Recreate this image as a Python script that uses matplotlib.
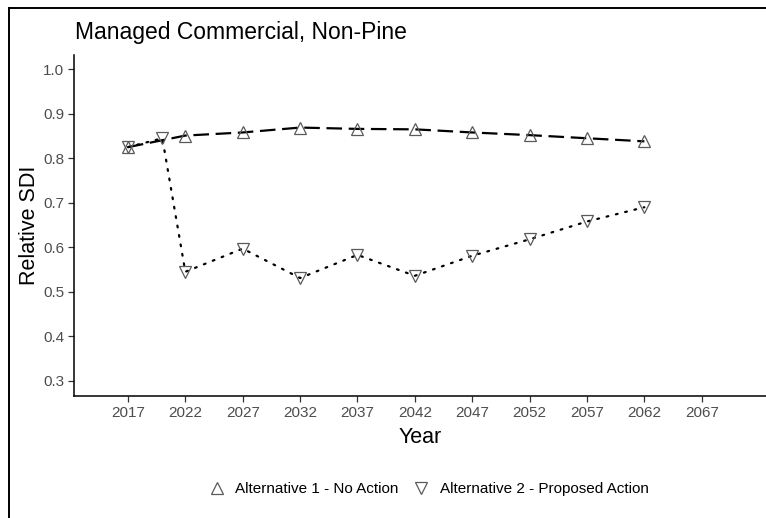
import matplotlib
matplotlib.use("Agg")
import matplotlib.pyplot as plt
from matplotlib.lines import Line2D

plt.rcParams['font.family'] = ['Liberation Sans', 'DejaVu Sans']

# Relative SDI by year for each management alternative
years_alt1 = [2017, 2022, 2027, 2032, 2037, 2042, 2047, 2052, 2057, 2062]
sdi_alt1 = [0.825, 0.851, 0.858, 0.869, 0.866, 0.865, 0.858, 0.852, 0.845, 0.838]

years_alt2 = [2017, 2020, 2022, 2027, 2032, 2037, 2042, 2047, 2052, 2057, 2062]
sdi_alt2 = [0.825, 0.845, 0.545, 0.597, 0.531, 0.583, 0.536, 0.581, 0.618, 0.658, 0.690]

x_ticks = list(range(2017, 2068, 5))
y_ticks = [0.3, 0.4, 0.5, 0.6, 0.7, 0.8, 0.9, 1.0]

label_alt1 = "Alternative 1 - No Action"
label_alt2 = "Alternative 2 - Proposed Action"
title = "Managed Commercial, Non-Pine"

W, H = 766, 518
fig = plt.figure(figsize=(W / 100, H / 100), dpi=100)
ax = fig.add_axes([74 / W, (H - 396) / H, (W - 74) / W, (396 - 55) / H])

marker_grey = "#5a5a5a"
ax.plot(years_alt1, sdi_alt1, color="black", lw=1.6, linestyle=(0, (7, 3)),
        marker="^", markersize=8.5, markerfacecolor="none",
        markeredgecolor=marker_grey, markeredgewidth=0.9, zorder=3)
ax.plot(years_alt2, sdi_alt2, color="black", lw=1.6, linestyle=(0, (0.8, 3.5)),
        dash_capstyle="round",
        marker="v", markersize=8.5, markerfacecolor="none",
        markeredgecolor=marker_grey, markeredgewidth=0.9, zorder=3)

ax.set_xlim(2012.3, 2072.6)
ax.set_ylim(0.266, 1.032)
ax.set_xticks(x_ticks)
ax.set_xticklabels([str(y) for y in x_ticks])
ax.set_yticks(y_ticks)
ax.set_yticklabels([f"{v:.1f}" for v in y_ticks])

for side in ("top", "right"):
    ax.spines[side].set_visible(False)
for side in ("left", "bottom"):
    ax.spines[side].set_linewidth(1.1)
    ax.spines[side].set_color("black")
ax.tick_params(axis="both", length=4, width=0.9, color="#333333",
               labelcolor="#4d4d4d", labelsize=11, pad=3)

ax.set_xlabel("Year", fontsize=15.5, labelpad=5)
ax.set_ylabel("Relative SDI", fontsize=15.5, labelpad=2)

fig.text(75 / W, 1 - 32 / H, title, fontsize=16.5, ha="left", va="center")

handles = [
    Line2D([], [], linestyle="none", marker="^", markersize=8.5,
           markerfacecolor="none", markeredgecolor=marker_grey, markeredgewidth=0.9),
    Line2D([], [], linestyle="none", marker="v", markersize=8.5,
           markerfacecolor="none", markeredgecolor=marker_grey, markeredgewidth=0.9),
]
fig.legend(handles, [label_alt1, label_alt2], loc="center",
           bbox_to_anchor=(428 / W, 1 - 489 / H), ncol=2, frameon=False,
           fontsize=11, handlelength=1.2, handletextpad=0.6, columnspacing=0.9)

# outer frame (left and top edges)
fig.add_artist(Line2D([9 / W, 9 / W], [0, 1 - 8 / H], transform=fig.transFigure,
                      color="black", lw=1.4))
fig.add_artist(Line2D([9 / W, 1], [1 - 8 / H, 1 - 8 / H], transform=fig.transFigure,
                      color="black", lw=1.4))

fig.savefig("out.png", dpi=100, facecolor="white")
